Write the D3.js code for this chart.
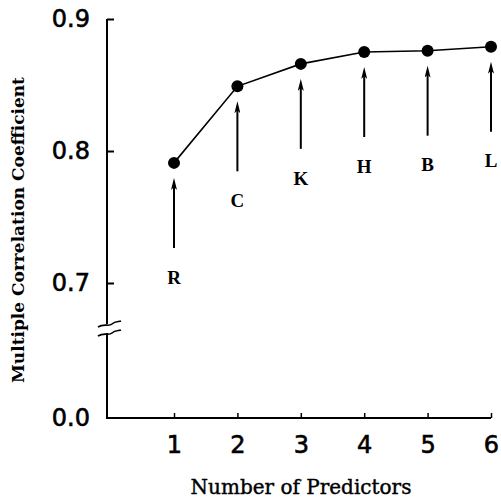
<!DOCTYPE html>
<html>
<head>
<meta charset="utf-8">
<script src="https://cdn.jsdelivr.net/npm/d3@7"></script>
<style>
  html, body { margin: 0; padding: 0; background: #fff; }
  svg { display: block; }
</style>
</head>
<body>
<div id="chart"></div>
<script>
// data
const predictors = [1, 2, 3, 4, 5, 6];
const correlation = [0.791, 0.849, 0.866, 0.875, 0.876, 0.879];
const predictorNames = ["R", "C", "K", "H", "B", "L"];
const yTickValues = [0.0, 0.7, 0.8, 0.9];

const width = 501, height = 499;
const axisX = 107, axisY = 418;

const svg = d3.select("#chart").append("svg")
    .attr("width", width)
    .attr("height", height);

const x = d3.scaleLinear().domain([1, 6]).range([174, 491]);
// broken scale: 0 .. 0.7 compressed below the break
const y = d3.scaleLinear().domain([0, 0.7, 0.9]).range([axisY, 283, 19]);

// arrow head, drawn along +x so orient=auto turns it along the shaft
svg.append("defs").append("marker")
    .attr("id", "head")
    .attr("viewBox", "0 0 12 6")
    .attr("refX", 5).attr("refY", 3)
    .attr("markerWidth", 12).attr("markerHeight", 6)
    .attr("markerUnits", "userSpaceOnUse")
    .attr("orient", "auto")
    .append("path")
    .attr("d", "M0,0 L12,3 L0,6 L3,3 Z")
    .attr("fill", "#000");

// y axis
const yAxis = svg.append("g")
    .attr("transform", `translate(${axisX},0)`)
    .call(d3.axisLeft(y).tickValues(yTickValues).tickSize(-7).tickSizeOuter(0)
        .tickPadding(17).tickFormat(d3.format(".1f")));
yAxis.select(".domain").remove();
yAxis.selectAll(".tick line").attr("stroke-width", 2);
yAxis.selectAll(".tick").filter(d => d === 0).select("line").remove();
yAxis.selectAll("text")
    .attr("font-family", "DejaVu Sans, sans-serif")
    .attr("font-size", 24)
    .attr("fill", "#000")
    .attr("stroke", "#000").attr("stroke-width", 0.6);

// axis line, split at the break
const breakTop = 324, breakBottom = 333;
svg.append("path")
    .attr("d", `M${axisX},${y(0.9)}V${breakTop}M${axisX},${breakBottom}V${axisY + 1}`)
    .attr("stroke", "#000").attr("stroke-width", 2).attr("fill", "none");
[breakTop, breakBottom].forEach(b => {
    svg.append("path")
        .attr("d", `M${axisX - 9},${b + 3} C${axisX - 3},${b - 1} ${axisX + 2},${b + 3} ${axisX + 5},${b} S${axisX + 12},${b - 2} ${axisX + 14},${b - 3}`)
        .attr("stroke", "#000").attr("stroke-width", 1.6).attr("fill", "none");
});

// x axis
const xAxis = svg.append("g")
    .attr("transform", `translate(0,${axisY})`)
    .call(d3.axisBottom(x).tickValues(predictors).tickSize(-5).tickSizeOuter(0)
        .tickPadding(18).tickFormat(d3.format("d")));
xAxis.select(".domain").remove();
xAxis.selectAll(".tick line").attr("stroke-width", 1.5);
xAxis.selectAll("text")
    .attr("font-family", "DejaVu Sans, sans-serif")
    .attr("font-size", 24)
    .attr("fill", "#000")
    .attr("stroke", "#000").attr("stroke-width", 0.6);
svg.append("line")
    .attr("x1", axisX).attr("x2", x(6))
    .attr("y1", axisY).attr("y2", axisY)
    .attr("stroke", "#000").attr("stroke-width", 2);

// line and points
const points = predictors.map((p, i) => ({ p, r: correlation[i], name: predictorNames[i] }));
svg.append("path")
    .datum(points)
    .attr("d", d3.line().x(d => x(d.p)).y(d => y(d.r)))
    .attr("fill", "none").attr("stroke", "#000").attr("stroke-width", 1.6);
svg.selectAll(".dot").data(points).enter().append("circle")
    .attr("class", "dot")
    .attr("cx", d => x(d.p)).attr("cy", d => y(d.r))
    .attr("r", 6).attr("fill", "#000");

// arrows with predictor letters
const tipGap = 15, arrowLen = 70, labelGap = 29;
svg.selectAll(".arrow").data(points).enter().append("line")
    .attr("class", "arrow")
    .attr("x1", d => x(d.p)).attr("x2", d => x(d.p))
    .attr("y1", d => y(d.r) + tipGap + arrowLen)
    .attr("y2", d => y(d.r) + tipGap + 7)
    .attr("stroke", "#000").attr("stroke-width", 2)
    .attr("marker-end", "url(#head)");
svg.selectAll(".name").data(points).enter().append("text")
    .attr("class", "name")
    .attr("x", d => x(d.p))
    .attr("y", d => y(d.r) + tipGap + arrowLen + labelGap)
    .attr("dy", "0.35em")
    .attr("text-anchor", "middle")
    .attr("font-family", "Liberation Serif, Times New Roman, serif")
    .attr("font-weight", "bold")
    .attr("font-size", 19)
    .text(d => d.name);

// axis titles
svg.append("text")
    .attr("transform", "translate(24,230) rotate(-90)")
    .attr("text-anchor", "middle")
    .attr("font-family", "DejaVu Serif, serif")
    .attr("font-weight", "bold")
    .attr("font-size", 17)
    .text("Multiple Correlation Coefficient");
svg.append("text")
    .attr("x", 301).attr("y", 494)
    .attr("text-anchor", "middle")
    .attr("font-family", "DejaVu Serif, serif")
    .attr("font-size", 20)
    .attr("stroke", "#000").attr("stroke-width", 0.4)
    .text("Number of Predictors");
</script>
</body>
</html>
